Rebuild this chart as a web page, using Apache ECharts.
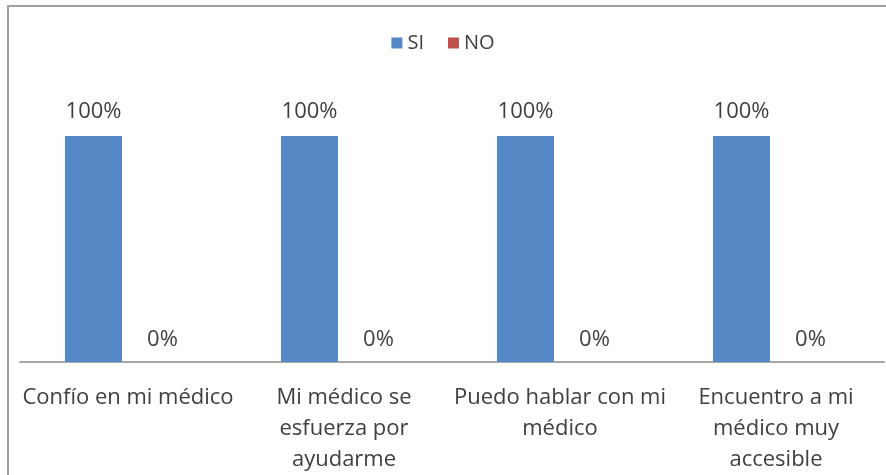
<!DOCTYPE html>
<html><head><meta charset="utf-8">
<script src="https://cdn.jsdelivr.net/npm/echarts@6/dist/echarts.min.js"></script>
<style>html,body{margin:0;padding:0;background:#fff}#c{width:886px;height:475px}</style>
</head><body><div id="c"></div>
<script>
var categories = ['Confío en mi médico', 'Mi médico se\nesfuerza por\nayudarme', 'Puedo hablar con mi\nmédico', 'Encuentro a mi\nmédico muy\naccesible'];
var seriesNames = ['SI', 'NO'];
var siValues = [1, 1, 1, 1];
var noValues = [0, 0, 0, 0];

var FONT = 'Open Sans';
var chart = echarts.init(document.getElementById('c'));
function lbl(p){ return Math.round(p.value*100) + '%'; }
chart.setOption({
  animation: false,
  textStyle: { fontFamily: FONT },
  graphic: [{ type: 'rect', shape: { x: 8, y: 6, width: 890, height: 480 }, style: { fill: 'none', stroke: '#a0a0a0', lineWidth: 2 }, z: -1 }],
  legend: {
    top: 28, left: 'center', itemWidth: 11, itemHeight: 11, itemGap: 24,
    icon: 'rect',
    textStyle: { fontFamily: FONT, fontSize: 20, color: '#404040' },
    data: seriesNames
  },
  grid: { left: 20, right: 2, top: 136, bottom: 113 },
  xAxis: {
    type: 'category', data: categories,
    axisLine: { lineStyle: { color: '#a6a6a6', width: 2 } },
    axisTick: { show: false },
    axisLabel: { interval: 0, margin: 20, fontFamily: FONT, fontSize: 22, lineHeight: 31, color: '#404040' }
  },
  yAxis: { type: 'value', min: 0, max: 1, show: false, splitLine: { show: false } },
  series: [
    { name: 'SI', type: 'bar', data: siValues, barWidth: 57, barGap: '21%', itemStyle: { color: '#5587c4' },
      label: { show: true, position: 'top', distance: 13, formatter: lbl, fontFamily: FONT, fontSize: 22, color: '#404040' } },
    { name: 'NO', type: 'bar', data: noValues, barWidth: 57, itemStyle: { color: '#c0504d' },
      label: { show: true, position: 'top', distance: 11, formatter: lbl, fontFamily: FONT, fontSize: 22, color: '#404040' } }
  ]
});
</script></body></html>
